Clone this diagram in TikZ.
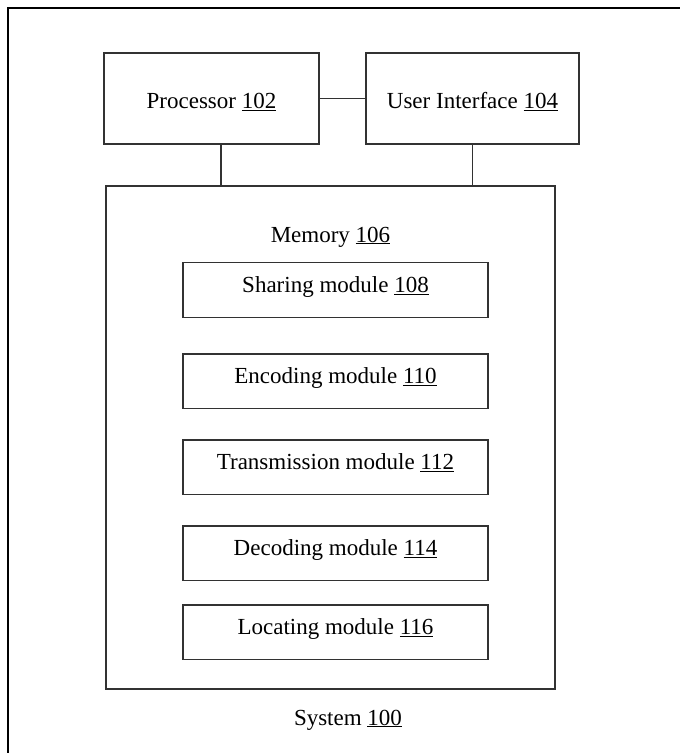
\documentclass[tikz,border=0pt]{standalone}
\usepackage{fontspec}
\setmainfont{Liberation Serif}
\usetikzlibrary{positioning, calc}
\definecolor{sysLine}{RGB}{50,50,50}
\newcommand{\refnum}[1]{\underline{#1}}

\begin{document}
\begin{tikzpicture}[x=1pt, y=-1pt,
        unit/.style={draw=sysLine, line width=1.2pt, minimum width=215pt, minimum height=91pt, inner sep=0pt, outer sep=0pt, text height=20pt, text depth=0pt, font=\fontsize{23}{27}\selectfont},
        module/.style={draw=sysLine, line width=1.2pt, minimum width=305pt, minimum height=54.5pt, inner sep=0pt, outer sep=0pt, text height=11pt, text depth=6pt, font=\fontsize{23}{27}\selectfont},
        caption/.style={inner sep=0pt, anchor=base, font=\fontsize{23}{27}\selectfont},
        link/.style={draw=sysLine, line width=1.2pt}
      ]
        \useasboundingbox (0,0) rectangle (680,753);
        \draw[line width=2pt] (680,8) -- (8,8) -- (8,753);

        \node[unit] (proc) at (211.5,98.5) {Processor \refnum{102}};
        \node[unit, minimum width=213pt, right=47pt of proc] (ui) {User Interface \refnum{104}};

        \node[draw=sysLine, line width=1.2pt, outer sep=0pt, minimum width=449pt, minimum height=503pt] (mem) at (330.5,437.5) {};
        \node[caption] (memlabel) at ($(mem.north)+(0,56)$) {Memory \refnum{106}};

        \node[module] (share) at (335.5,290) {Sharing module \refnum{108}};
        \node[module, below=36.75pt of share] (encode) {Encoding module \refnum{110}};
        \node[module, below=31.5pt of encode] (transmit) {Transmission module \refnum{112}};
        \node[module, below=31.5pt of transmit] (decode) {Decoding module \refnum{114}};
        \node[module, below=24.5pt of decode] (locate) {Locating module \refnum{116}};

        \node[caption] (system) at (348,725) {System \refnum{100}};

        \draw[link] (proc) -- (ui);
        \draw[link] ([xshift=9.5pt]proc.south) -- ([xshift=9.5pt]proc.south |- mem.north);
        \draw[link] (ui.south) -- (ui.south |- mem.north);
      \end{tikzpicture}
\end{document}
